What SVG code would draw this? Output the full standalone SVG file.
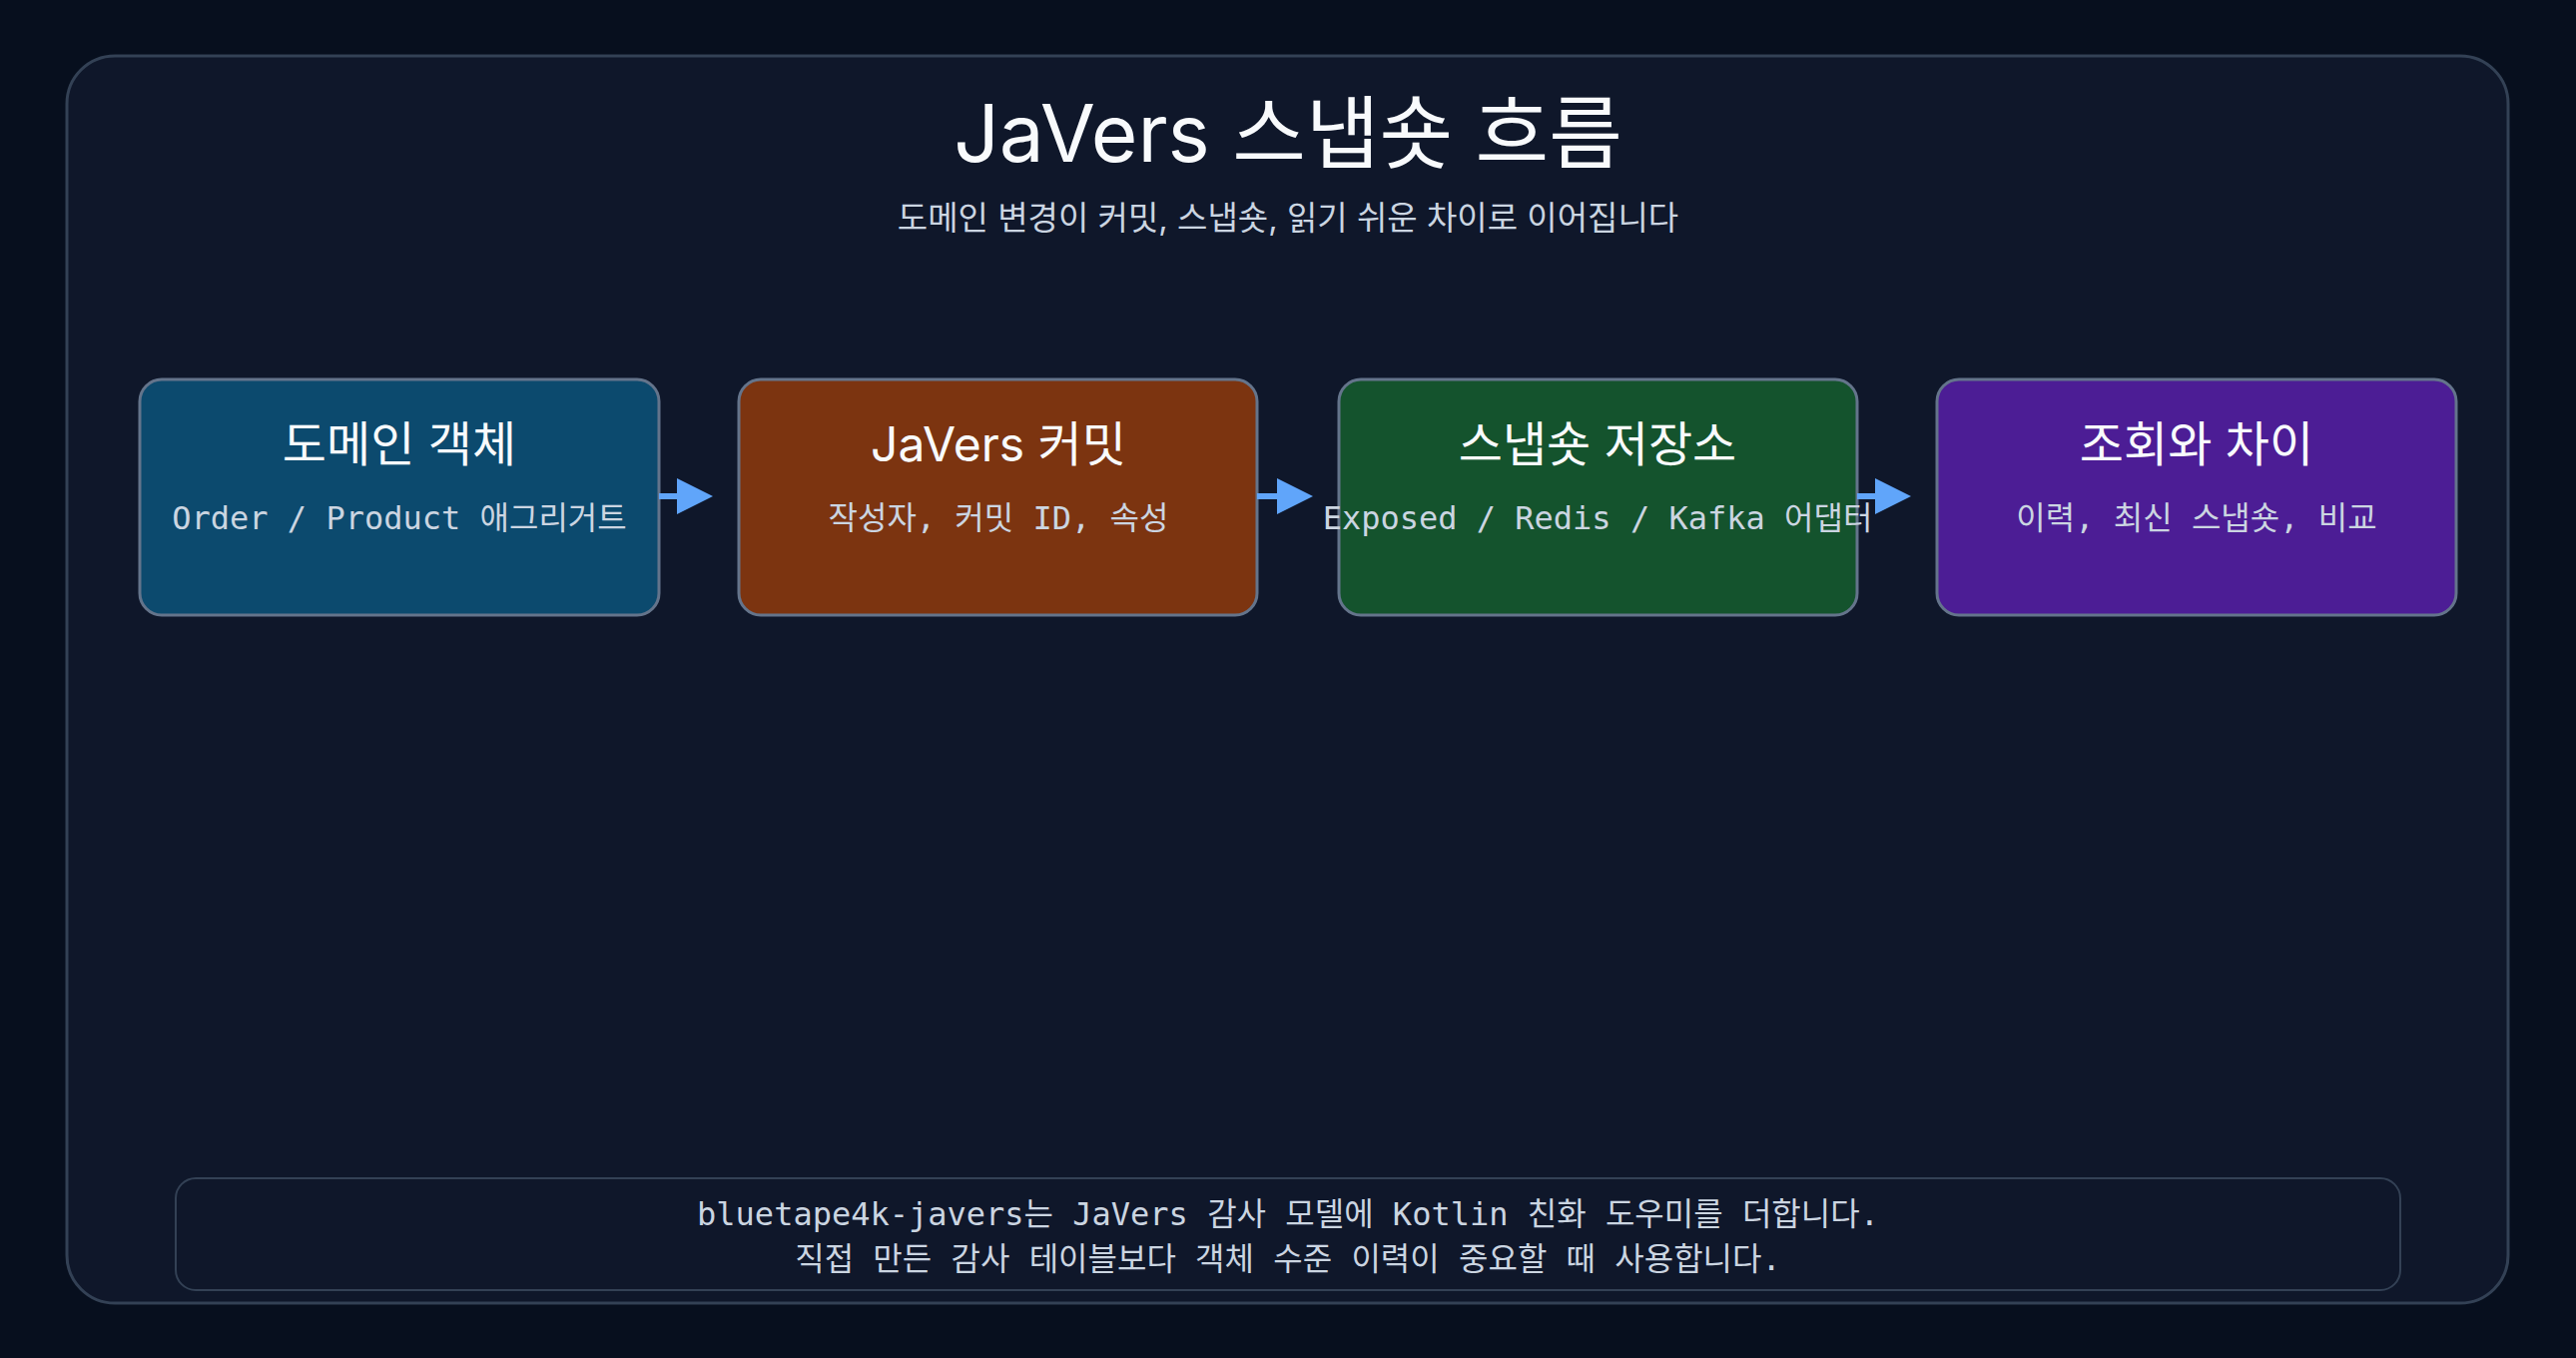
<svg xmlns="http://www.w3.org/2000/svg" width="2580" height="1360" viewBox="0 0 2580 1360">
<style>
.t{font-family:Inter,"Noto Sans","Noto Sans CJK KR",sans-serif;fill:#f8fafc;text-anchor:middle}
.m{font-family:"DejaVu Sans Mono","Liberation Mono","Noto Sans CJK KR",monospace;fill:#cbd5e1;text-anchor:middle;font-size:32px}
.box{stroke:#64748b;stroke-width:3}
.c{stroke:#60a5fa;stroke-width:6;fill:none}
</style>
<defs><marker id="a" markerWidth="6" markerHeight="6" refX="5" refY="3" orient="auto" markerUnits="strokeWidth"><path d="M0,0L6,3L0,6Z" fill="#60a5fa"/></marker></defs>
<rect width="2580" height="1360" fill="#070f1e"/>
<rect x="67" y="56" width="2445" height="1249" rx="48" fill="#0f172a" stroke="#334155" stroke-width="3"/>
<text class="t" x="1290" y="162" font-size="80">JaVers 스냅숏 흐름</text>
<text class="t" x="1290" y="230" font-size="33" fill="#cbd5e1" style="fill:#cbd5e1">도메인 변경이 커밋, 스냅숏, 읽기 쉬운 차이로 이어집니다</text>
<g id="n1"><rect class="box" x="140" y="380" width="520" height="236" rx="22" fill="#0c4a6e"/><text class="t" x="400" y="462" font-size="48">도메인 객체</text><text class="m" x="400" y="530">Order / Product 애그리거트</text></g>
<g id="n2"><rect class="box" x="740" y="380" width="519" height="236" rx="22" fill="#7c3410"/><text class="t" x="1000" y="462" font-size="48">JaVers 커밋</text><text class="m" x="1000" y="530">작성자, 커밋 ID, 속성</text></g>
<g id="n3"><rect class="box" x="1341" y="380" width="519" height="236" rx="22" fill="#14532d"/><text class="t" x="1600" y="462" font-size="48">스냅숏 저장소</text><text class="m" x="1600" y="530">Exposed / Redis / Kafka 어댑터</text></g>
<g id="n4"><rect class="box" x="1940" y="380" width="520" height="236" rx="22" fill="#4c1d95"/><text class="t" x="2200" y="462" font-size="48">조회와 차이</text><text class="m" x="2200" y="530">이력, 최신 스냅숏, 비교</text></g>
<g id="edges">
<line class="c" x1="660" y1="497" x2="708" y2="497" marker-end="url(#a)"/>
<line class="c" x1="1259" y1="497" x2="1309" y2="497" marker-end="url(#a)"/>
<line class="c" x1="1860" y1="497" x2="1908" y2="497" marker-end="url(#a)"/>
</g>
<g id="note"><rect x="176" y="1180" width="2228" height="112" rx="20" fill="#0f172a" stroke="#334155" stroke-width="2"/>
<text class="m" x="1290" y="1227">bluetape4k-javers는 JaVers 감사 모델에 Kotlin 친화 도우미를 더합니다.</text>
<text class="m" x="1290" y="1272">직접 만든 감사 테이블보다 객체 수준 이력이 중요할 때 사용합니다.</text></g>
</svg>
